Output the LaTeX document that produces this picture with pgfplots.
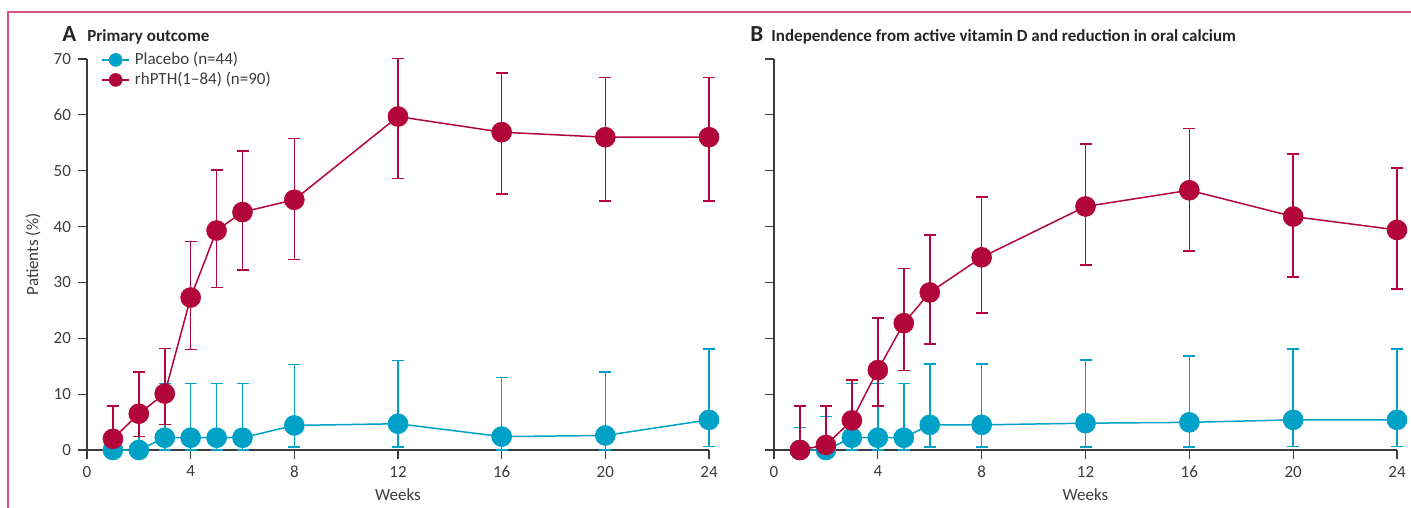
\documentclass[border=0pt]{standalone}
\usepackage{pgfplots}
\pgfplotsset{compat=1.18}
\usepackage{pgfplotstable}
\usepackage{fontspec}
\setmainfont{Carlito}
\definecolor{cblue}{HTML}{00A1C7}
\definecolor{cred}{HTML}{B2063B}
\definecolor{axgray}{HTML}{3C3C3C}
\definecolor{framec}{HTML}{D9527E}

\pgfplotstableread{
x y lo hi
1 0 0 7.9
2 0 0 7.9
3 2.2 0 11.9
4 2.2 0 11.9
5 2.2 0 11.9
6 2.2 0 11.9
8 4.4 0.5 15.3
12 4.7 0.5 16.0
16 2.4 0 13.0
20 2.6 0 14.0
24 5.4 0.6 18.1
}\Aplac
\pgfplotstableread{
x y lo hi
1 2.0 0.3 7.9
2 6.5 2.4 14.0
3 10.1 4.6 18.2
4 27.3 18.0 37.3
5 39.3 29.1 50.1
6 42.6 32.2 53.5
8 44.8 34.1 55.8
12 59.7 48.6 70.1
16 56.9 45.8 67.5
20 56.0 44.6 66.7
24 56.0 44.6 66.7
}\Apth
\pgfplotstableread{
x y lo hi
1 0 0 4.0
2 0 0 6.0
3 2.2 0 11.9
4 2.2 0 11.9
5 2.2 0 11.9
6 4.5 0.5 15.4
8 4.5 0.5 15.4
12 4.8 0.5 16.1
16 4.95 0.5 16.8
20 5.4 0.6 18.1
24 5.4 0.6 18.1
}\Bplac
\pgfplotstableread{
x y lo hi
1 0 0 7.9
2 0.9 0 7.9
3 5.3 1.0 12.5
4 14.3 7.9 23.6
5 22.7 14.2 32.5
6 28.2 19.0 38.5
8 34.5 24.5 45.3
12 43.6 33.1 54.8
16 46.5 35.6 57.6
20 41.8 31.0 53.0
24 39.4 28.8 50.5
}\Bpth

\pgfplotsset{
  myaxis/.style={
    scale only axis, height=195.5bp,
    xmin=0, xmax=24, ymin=0, ymax=70,
    axis lines=left, axis line style={-, axgray, line width=0.6bp},
    xtick={0,4,...,24}, ytick={0,10,...,70},
    tick align=outside, major tick length=4.5bp,
    tick style={axgray, line width=0.6bp},
    tick label style={font=\fontsize{8.5bp}{10bp}\selectfont, text=axgray},
    label style={font=\fontsize{8.5bp}{10bp}\selectfont, text=axgray},
    /pgf/number format/assume math mode=true,
    clip=false,
    xlabel={Weeks},
    xlabel style={at={(axis description cs:0.5,0)}, anchor=center, yshift=-22.5bp},
  },
  ser/.style={color=#1, line width=0.75bp, mark=*, mark size=5bp,
    mark options={solid, fill=#1, draw=#1, line width=0.3bp},
    error bars/.cd, y dir=both, y explicit,
    error bar style={line width=0.75bp, #1},
    error mark options={rotate=90, mark size=3bp, line width=0.75bp, #1}},
}

\begin{document}
\begin{tikzpicture}
\path[use as bounding box] (0,0) rectangle (705.5bp,254bp);
\draw[framec, line width=1bp] (4bp,0) -- (4bp,247.75bp) -- (705.5bp,247.75bp);

\node[anchor=base west, inner sep=0, font=\bfseries\fontsize{11.5bp}{12bp}\selectfont, text=black!85] at (31bp,233bp) {A};
\node[anchor=base west, inner sep=0, font=\bfseries\fontsize{8.5bp}{10bp}\selectfont, text=black!85] at (43.5bp,233bp) {Primary outcome};
\node[anchor=base west, inner sep=0, font=\bfseries\fontsize{11.5bp}{12bp}\selectfont, text=black!85] at (375bp,233bp) {B};
\node[anchor=base west, inner sep=0, font=\bfseries\fontsize{8.5bp}{10bp}\selectfont, text=black!85] at (385.5bp,233bp) {Independence from active vitamin D and reduction in oral calcium};

\begin{axis}[myaxis, width=311bp, at={(43.5bp,29bp)}, anchor=south west,
  ylabel={Patients (\%)},
  ylabel style={at={([xshift=-27bp]axis description cs:0,0.5)}, anchor=center, rotate=0},
  legend cell align=left,
  legend image code/.code={\draw[mark repeat=2, mark phase=2, #1, mark size=3.25bp] plot coordinates {(0bp,0bp) (6.75bp,0bp) (13.5bp,0bp)};},
  legend style={draw=none, fill=none, font=\fontsize{8.5bp}{10bp}\selectfont, text=axgray,
    at={(axis description cs:0,1)}, anchor=north west, xshift=7bp, yshift=4bp,
    inner sep=0pt, row sep=1.5bp, column sep=2.5bp,
    nodes={inner sep=0pt, text height=6.5bp, text depth=2bp}},
]
\addplot[ser=cblue] table[y error plus expr=\thisrow{hi}-\thisrow{y}, y error minus expr=\thisrow{y}-\thisrow{lo}] {\Aplac};
\addlegendentry{Placebo (n=44)}
\addplot[ser=cred] table[y error plus expr=\thisrow{hi}-\thisrow{y}, y error minus expr=\thisrow{y}-\thisrow{lo}] {\Apth};
\addlegendentry{rhPTH(1–84) (n=90)}
\end{axis}

\begin{axis}[myaxis, width=311.5bp, at={(387bp,29bp)}, anchor=south west,
  yticklabels={}]
\addplot[ser=cblue] table[y error plus expr=\thisrow{hi}-\thisrow{y}, y error minus expr=\thisrow{y}-\thisrow{lo}] {\Bplac};
\addplot[ser=cred] table[y error plus expr=\thisrow{hi}-\thisrow{y}, y error minus expr=\thisrow{y}-\thisrow{lo}] {\Bpth};
\end{axis}
\end{tikzpicture}
\end{document}
